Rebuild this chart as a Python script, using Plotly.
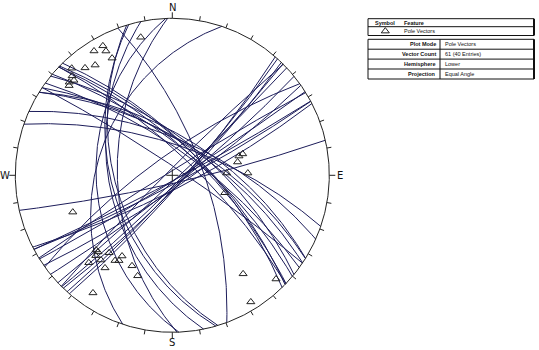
import numpy as np
import plotly.graph_objects as go

# Pole vectors (trend, plunge in degrees), lower hemisphere
pole_trend = [347.1, 331.8, 327.8, 331.9, 332.8, 325.0, 320.9, 316.8, 314.8, 314.0, 312.1, 311.0,
              73.1, 73.9, 78.5, 87.6, 88.3, 108.4,
              144.3, 135.0, 148.2,
              249.7, 225.6, 224.1, 223.6, 219.2, 220.1, 223.7, 211.9, 213.9, 212.0, 216.0, 204.0, 199.0, 214.0]
pole_plunge = [5.9, 3.8, 3.8, 6.2, 10.0, 8.8, 7.2, 3.8, 6.1, 7.9, 7.0, 7.9,
               39.8, 42.3, 44.0, 51.8, 38.6, 51.2,
               14.6, 3.9, 3.0,
               21.9, 21.6, 21.6, 19.5, 25.0, 19.6, 14.8, 27.6, 23.6, 24.7, 17.8, 25.5, 21.8, 5.8]

cardinal_labels = ["N", "E", "S", "W"]
table_rows = ["Plot Mode", "Vector Count", "Hemisphere", "Projection"]
table_values = ["Pole Vectors", "61 (40 Entries)", "Lower", "Equal Angle"]

W, H = 539, 350
CX, CY, R = 172.3, 175.3, 157.0  # stereonet centre and radius in pixels
LINE = "#1c1c5a"


def project(x, y, z):
    """Equal-angle (stereographic) projection of a downward unit vector."""
    return x / (1 + z), y / (1 + z)


def pole_xy(trend, plunge):
    t, p = np.radians(trend), np.radians(plunge)
    return project(np.cos(p) * np.sin(t), np.cos(p) * np.cos(t), np.sin(p))


def great_circle(trend, plunge, n=241):
    dd = np.radians(trend + 180.0)
    dip = np.radians(90.0 - plunge)
    strike = dd - np.pi / 2
    a = np.linspace(0, np.pi, n)
    x = np.cos(a) * np.sin(strike) + np.sin(a) * np.cos(dip) * np.sin(dd)
    y = np.cos(a) * np.cos(strike) + np.sin(a) * np.cos(dip) * np.cos(dd)
    z = np.sin(a) * np.sin(dip)
    return project(x, y, z)


fig = go.Figure()

# great circles of the planes
gx, gy = [], []
for t, p in zip(pole_trend, pole_plunge):
    x, y = great_circle(t, p)
    gx += list(x) + [None]
    gy += list(y) + [None]
fig.add_trace(go.Scatter(x=gx, y=gy, mode="lines", line=dict(color=LINE, width=1),
                         hoverinfo="skip"))

# primitive circle
th = np.linspace(0, 2 * np.pi, 721)
fig.add_trace(go.Scatter(x=np.sin(th), y=np.cos(th), mode="lines",
                         line=dict(color="#222222", width=1), hoverinfo="skip"))

# azimuth ticks every 10 degrees
tx, ty = [], []
for az in range(0, 360, 10):
    a = np.radians(az)
    L = 6 / R if az % 90 == 0 else 4.5 / R
    tx += [np.sin(a), (1 + L) * np.sin(a), None]
    ty += [np.cos(a), (1 + L) * np.cos(a), None]
# centre cross
c = 6 / R
tx += [-c, c, None, 0, 0, None]
ty += [0, 0, None, -c, c, None]
fig.add_trace(go.Scatter(x=tx, y=ty, mode="lines", line=dict(color="#222222", width=1),
                         hoverinfo="skip"))

# poles
px_, py_ = pole_xy(np.array(pole_trend), np.array(pole_plunge))
fig.add_trace(go.Scatter(x=px_, y=py_, mode="markers",
                         marker=dict(symbol="triangle-up-open", size=7,
                                     color="#222222", line=dict(width=1)),
                         hoverinfo="skip"))

# compass labels
off = 1 + 10.5 / R
for lab, az in zip(cardinal_labels, [0, 90, 180, 270]):
    a = np.radians(az)
    fig.add_annotation(x=off * np.sin(a), y=off * np.cos(a),
                       text=lab, showarrow=False,
                       font=dict(family="DejaVu Sans", size=10, color="#111111"),
                       xanchor="center", yanchor="middle")


# ----- info tables (paper coordinates from pixels)
def fx(x):
    return x / W


def fy(y):
    return 1 - y / H


def hline(x0, x1, y, w=1):
    fig.add_shape(type="line", xref="paper", yref="paper", x0=fx(x0), x1=fx(x1),
                  y0=fy(y), y1=fy(y), line=dict(color="#111111", width=w))


def vline(x, y0, y1, w=1):
    fig.add_shape(type="line", xref="paper", yref="paper", x0=fx(x), x1=fx(x),
                  y0=fy(y0), y1=fy(y1), line=dict(color="#111111", width=w))


def label(x, y, text, anchor="left", bold=False):
    fig.add_annotation(xref="paper", yref="paper", x=fx(x), y=fy(y),
                       text=f"<b>{text}</b>" if bold else text, showarrow=False,
                       xanchor=anchor, yanchor="middle",
                       font=dict(family="Liberation Sans", size=5.5, color="#111111"))


TL, TR = 368, 534
# symbol table
t1 = [18.7, 26.7, 35.5]
for y in t1:
    hline(TL, TR, y)
vline(TL, t1[0], t1[-1])
vline(TR, t1[0], t1[-1], 2)
label(373, (t1[0] + t1[1]) / 2, "Symbol", bold=True)
label(402, (t1[0] + t1[1]) / 2, "Feature", bold=True)
label(402, (t1[1] + t1[2]) / 2, "Pole Vectors")
fig.add_trace(go.Scatter(x=[(385.3 - CX) / R], y=[(CY - (t1[1] + t1[2]) / 2) / R],
                         mode="markers",
                         marker=dict(symbol="triangle-up-open", size=7, color="#222222",
                                     line=dict(width=1)), hoverinfo="skip"))

# properties table
t2 = [39.3, 49.2, 59.1, 69.0, 79.0]
for y in t2:
    hline(TL, TR, y)
vline(TL, t2[0], t2[-1])
vline(TR, t2[0], t2[-1], 2)
vline(440, t2[0], t2[-1])
for i, (k, v) in enumerate(zip(table_rows, table_values)):
    yc = (t2[i] + t2[i + 1]) / 2
    label(437.5, yc, k, anchor="right", bold=True)
    label(443, yc, v)

fig.update_layout(
    width=W, height=H, margin=dict(l=0, r=0, t=0, b=0),
    paper_bgcolor="white", plot_bgcolor="white", showlegend=False,
    xaxis=dict(range=[-CX / R, (W - CX) / R], visible=False, fixedrange=True),
    yaxis=dict(range=[-(H - CY) / R, CY / R], visible=False, fixedrange=True),
)

fig.write_html("out.html")
